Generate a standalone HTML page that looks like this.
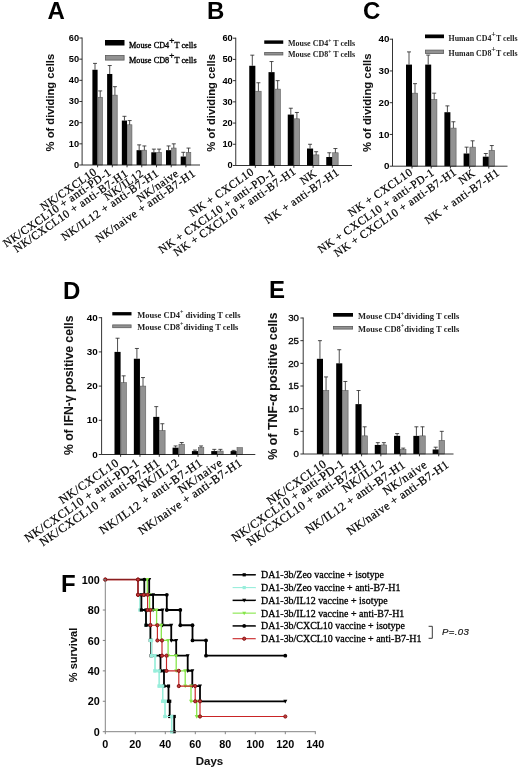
<!DOCTYPE html>
<html><head><meta charset="utf-8"><title>Figure</title>
<style>
html,body{margin:0;padding:0;background:#fff;}
svg{display:block;opacity:0.999;will-change:transform;}
text{font-family:"Liberation Sans",sans-serif;fill:#000;}
.ttl{font-size:24px;font-weight:bold;}
.ylab{font-weight:bold;fill:#111;stroke:#111;stroke-width:0.06;}
.tick{font-size:11.5px;font-weight:bold;}
.tickf{font-size:10.8px;font-weight:bold;}
.xlab{font-family:"Liberation Serif",serif;stroke:#000;stroke-width:0.22;}
.leg{font-family:"Liberation Serif",serif;fill:#000;stroke:#000;stroke-width:0.35;letter-spacing:0.05px;}
.legb{font-family:"Liberation Serif",serif;fill:#222;}
.legf{font-family:"Liberation Serif",serif;font-size:9.95px;stroke:#000;stroke-width:0.3;}
.pval{font-size:9.6px;font-style:italic;fill:#111;stroke:#111;stroke-width:0.15;letter-spacing:0.35px;}
.axl{fill:none;stroke:#111;stroke-width:0.85;}
.axf{fill:none;stroke:#777;stroke-width:0.9;}
.eb{fill:none;stroke:#222;stroke-width:0.8;}
</style></head>
<body>
<svg width="520" height="769" viewBox="0 0 520 769">
<rect width="520" height="769" fill="#fff"/>
<text x="47.5" y="19" class="ttl">A</text>
<text transform="translate(54,102.6) rotate(-90)" class="ylab" font-size="11.2" text-anchor="middle">% of dividing cells</text>
<rect x="92.40" y="69.75" width="5.20" height="95.25" fill="#000"/>
<path d="M95.00 69.75V63.40M93.00 63.40H97.00" class="eb"/>
<rect x="97.90" y="97.27" width="4.60" height="67.73" fill="#929292" stroke="#5c5c5c" stroke-width="0.6"/>
<path d="M100.20 97.27V90.92M98.20 90.92H102.20" class="eb"/>
<rect x="107.12" y="73.98" width="5.20" height="91.02" fill="#000"/>
<path d="M109.72 73.98V65.52M107.72 65.52H111.72" class="eb"/>
<rect x="112.62" y="95.15" width="4.60" height="69.85" fill="#929292" stroke="#5c5c5c" stroke-width="0.6"/>
<path d="M114.92 95.15V86.68M112.92 86.68H116.92" class="eb"/>
<rect x="121.84" y="120.55" width="5.20" height="44.45" fill="#000"/>
<path d="M124.44 120.55V116.32M122.44 116.32H126.44" class="eb"/>
<rect x="127.34" y="124.78" width="4.60" height="40.22" fill="#929292" stroke="#5c5c5c" stroke-width="0.6"/>
<path d="M129.64 124.78V120.55M127.64 120.55H131.64" class="eb"/>
<rect x="136.56" y="150.18" width="5.20" height="14.82" fill="#000"/>
<path d="M139.16 150.18V144.89M137.16 144.89H141.16" class="eb"/>
<rect x="142.06" y="150.18" width="4.60" height="14.82" fill="#929292" stroke="#5c5c5c" stroke-width="0.6"/>
<path d="M144.36 150.18V145.95M142.36 145.95H146.36" class="eb"/>
<rect x="151.28" y="152.30" width="5.20" height="12.70" fill="#000"/>
<path d="M153.88 152.30V149.12M151.88 149.12H155.88" class="eb"/>
<rect x="156.78" y="152.30" width="4.60" height="12.70" fill="#929292" stroke="#5c5c5c" stroke-width="0.6"/>
<path d="M159.08 152.30V149.12M157.08 149.12H161.08" class="eb"/>
<rect x="166.00" y="150.18" width="5.20" height="14.82" fill="#000"/>
<path d="M168.60 150.18V145.95M166.60 145.95H170.60" class="eb"/>
<rect x="171.50" y="148.07" width="4.60" height="16.93" fill="#929292" stroke="#5c5c5c" stroke-width="0.6"/>
<path d="M173.80 148.07V143.83M171.80 143.83H175.80" class="eb"/>
<rect x="180.72" y="156.53" width="5.20" height="8.47" fill="#000"/>
<path d="M183.32 156.53V152.30M181.32 152.30H185.32" class="eb"/>
<rect x="186.22" y="152.30" width="4.60" height="12.70" fill="#929292" stroke="#5c5c5c" stroke-width="0.6"/>
<path d="M188.52 152.30V148.07M186.52 148.07H190.52" class="eb"/>
<path d="M82.1 37.5V165H200" class="axl"/>
<path d="M79.3 165.00H82.1" class="axl"/>
<text transform="translate(79.10,167.89) scale(1.09,1)" font-size="8.5" font-weight="bold" stroke="#000" stroke-width="0" text-anchor="end">0</text>
<path d="M79.3 143.83H82.1" class="axl"/>
<text transform="translate(79.10,146.72) scale(1.09,1)" font-size="8.5" font-weight="bold" stroke="#000" stroke-width="0" text-anchor="end">10</text>
<path d="M79.3 122.67H82.1" class="axl"/>
<text transform="translate(79.10,125.56) scale(1.09,1)" font-size="8.5" font-weight="bold" stroke="#000" stroke-width="0" text-anchor="end">20</text>
<path d="M79.3 101.50H82.1" class="axl"/>
<text transform="translate(79.10,104.39) scale(1.09,1)" font-size="8.5" font-weight="bold" stroke="#000" stroke-width="0" text-anchor="end">30</text>
<path d="M79.3 80.33H82.1" class="axl"/>
<text transform="translate(79.10,83.22) scale(1.09,1)" font-size="8.5" font-weight="bold" stroke="#000" stroke-width="0" text-anchor="end">40</text>
<path d="M79.3 59.17H82.1" class="axl"/>
<text transform="translate(79.10,62.06) scale(1.09,1)" font-size="8.5" font-weight="bold" stroke="#000" stroke-width="0" text-anchor="end">50</text>
<path d="M79.3 38.00H82.1" class="axl"/>
<text transform="translate(79.10,40.89) scale(1.09,1)" font-size="8.5" font-weight="bold" stroke="#000" stroke-width="0" text-anchor="end">60</text>
<path d="M97.60 165V167.3" class="axl" stroke-width="0.6"/>
<text transform="translate(97.60,173.50) rotate(-34.8)" class="xlab" font-size="11.35" letter-spacing="0.52" text-anchor="end">NK/CXCL10</text>
<path d="M112.32 165V167.3" class="axl" stroke-width="0.6"/>
<text transform="translate(112.12,174.00) rotate(-34.8)" class="xlab" font-size="11.35" letter-spacing="0.52" text-anchor="end">NK/CXCL10 + anti-PD-1</text>
<path d="M127.04 165V167.3" class="axl" stroke-width="0.6"/>
<text transform="translate(128.74,175.00) rotate(-34.8)" class="xlab" font-size="11.35" letter-spacing="0.52" text-anchor="end">NK/CXCL10 + anti-B7-H1</text>
<path d="M141.76 165V167.3" class="axl" stroke-width="0.6"/>
<text transform="translate(144.46,175.00) rotate(-34.8)" class="xlab" font-size="11.35" letter-spacing="0.52" text-anchor="end">NK/IL12</text>
<path d="M156.48 165V167.3" class="axl" stroke-width="0.6"/>
<text transform="translate(159.48,175.00) rotate(-34.8)" class="xlab" font-size="11.35" letter-spacing="0.52" text-anchor="end">NK/IL12 + anti-B7-H1</text>
<path d="M171.20 165V167.3" class="axl" stroke-width="0.6"/>
<text transform="translate(179.60,175.00) rotate(-34.8)" class="xlab" font-size="11.35" letter-spacing="0.52" text-anchor="end">NK/naive</text>
<path d="M185.92 165V167.3" class="axl" stroke-width="0.6"/>
<text transform="translate(196.32,175.00) rotate(-34.8)" class="xlab" font-size="11.35" letter-spacing="0.52" text-anchor="end">NK/naive + anti-B7-H1</text>
<rect x="105" y="40" width="19.5" height="5.5" fill="#000"/>
<rect x="105.4" y="55.4" width="18.7" height="4.7" fill="#929292" stroke="#5c5c5c" stroke-width="0.8"/>
<text x="129" y="47.75" class="leg" font-size="8.2" font-weight="normal">Mouse CD4<tspan dy="-4.8" font-size="9">+</tspan><tspan dy="4.8">T cells</tspan></text>
<text x="129" y="62.75" class="leg" font-size="8.2" font-weight="normal">Mouse CD8<tspan dy="-4.8" font-size="9">+</tspan><tspan dy="4.8">T cells</tspan></text>
<text x="207" y="19" class="ttl">B</text>
<text transform="translate(214.5,102.9) rotate(-90)" class="ylab" font-size="11.2" text-anchor="middle">% of dividing cells</text>
<rect x="249.25" y="65.78" width="6.10" height="99.72" fill="#000"/>
<path d="M252.30 65.78V55.17M250.30 55.17H254.30" class="eb"/>
<rect x="255.65" y="91.24" width="5.50" height="74.26" fill="#929292" stroke="#5c5c5c" stroke-width="0.6"/>
<path d="M258.40 91.24V82.76M256.40 82.76H260.40" class="eb"/>
<rect x="268.50" y="72.15" width="6.10" height="93.35" fill="#000"/>
<path d="M271.55 72.15V61.54M269.55 61.54H273.55" class="eb"/>
<rect x="274.90" y="89.12" width="5.50" height="76.38" fill="#929292" stroke="#5c5c5c" stroke-width="0.6"/>
<path d="M277.65 89.12V80.63M275.65 80.63H279.65" class="eb"/>
<rect x="287.75" y="114.58" width="6.10" height="50.92" fill="#000"/>
<path d="M290.80 114.58V108.22M288.80 108.22H292.80" class="eb"/>
<rect x="294.15" y="118.82" width="5.50" height="46.68" fill="#929292" stroke="#5c5c5c" stroke-width="0.6"/>
<path d="M296.90 118.82V112.46M294.90 112.46H298.90" class="eb"/>
<rect x="307.00" y="148.53" width="6.10" height="16.97" fill="#000"/>
<path d="M310.05 148.53V144.28M308.05 144.28H312.05" class="eb"/>
<rect x="313.40" y="154.89" width="5.50" height="10.61" fill="#929292" stroke="#5c5c5c" stroke-width="0.6"/>
<path d="M316.15 154.89V151.71M314.15 151.71H318.15" class="eb"/>
<rect x="326.25" y="157.01" width="6.10" height="8.49" fill="#000"/>
<path d="M329.30 157.01V152.77M327.30 152.77H331.30" class="eb"/>
<rect x="332.65" y="152.77" width="5.50" height="12.73" fill="#929292" stroke="#5c5c5c" stroke-width="0.6"/>
<path d="M335.40 152.77V148.53M333.40 148.53H337.40" class="eb"/>
<path d="M235.75 37.7V165.5H352" class="axl"/>
<path d="M232.95 165.50H235.75" class="axl"/>
<text transform="translate(232.75,168.39) scale(1.09,1)" font-size="8.5" font-weight="bold" stroke="#000" stroke-width="0" text-anchor="end">0</text>
<path d="M232.95 144.28H235.75" class="axl"/>
<text transform="translate(232.75,147.17) scale(1.09,1)" font-size="8.5" font-weight="bold" stroke="#000" stroke-width="0" text-anchor="end">10</text>
<path d="M232.95 123.07H235.75" class="axl"/>
<text transform="translate(232.75,125.96) scale(1.09,1)" font-size="8.5" font-weight="bold" stroke="#000" stroke-width="0" text-anchor="end">20</text>
<path d="M232.95 101.85H235.75" class="axl"/>
<text transform="translate(232.75,104.74) scale(1.09,1)" font-size="8.5" font-weight="bold" stroke="#000" stroke-width="0" text-anchor="end">30</text>
<path d="M232.95 80.63H235.75" class="axl"/>
<text transform="translate(232.75,83.52) scale(1.09,1)" font-size="8.5" font-weight="bold" stroke="#000" stroke-width="0" text-anchor="end">40</text>
<path d="M232.95 59.42H235.75" class="axl"/>
<text transform="translate(232.75,62.31) scale(1.09,1)" font-size="8.5" font-weight="bold" stroke="#000" stroke-width="0" text-anchor="end">50</text>
<path d="M232.95 38.20H235.75" class="axl"/>
<text transform="translate(232.75,41.09) scale(1.09,1)" font-size="8.5" font-weight="bold" stroke="#000" stroke-width="0" text-anchor="end">60</text>
<path d="M255.35 165.5V167.8" class="axl" stroke-width="0.6"/>
<text transform="translate(254.75,173.50) rotate(-34.8)" class="xlab" font-size="11.35" letter-spacing="0.52" text-anchor="end">NK + CXCL10</text>
<path d="M274.60 165.5V167.8" class="axl" stroke-width="0.6"/>
<text transform="translate(275.80,174.40) rotate(-34.8)" class="xlab" font-size="11.35" letter-spacing="0.52" text-anchor="end">NK + CXCL10 + anti-PD-1</text>
<path d="M293.85 165.5V167.8" class="axl" stroke-width="0.6"/>
<text transform="translate(296.95,173.00) rotate(-34.8)" class="xlab" font-size="11.35" letter-spacing="0.52" text-anchor="end">NK  + CXCL10 + anti-B7-H1</text>
<path d="M313.10 165.5V167.8" class="axl" stroke-width="0.6"/>
<text transform="translate(317.50,175.00) rotate(-34.8)" class="xlab" font-size="11.35" letter-spacing="0.52" text-anchor="end">NK</text>
<path d="M332.35 165.5V167.8" class="axl" stroke-width="0.6"/>
<text transform="translate(340.05,174.00) rotate(-34.8)" class="xlab" font-size="11.35" letter-spacing="0.52" text-anchor="end">NK + anti-B7-H1</text>
<rect x="264.25" y="40.4" width="19" height="3.4" fill="#000"/>
<rect x="264.65" y="52.4" width="18.2" height="2.5999999999999996" fill="#929292" stroke="#5c5c5c" stroke-width="0.8"/>
<text x="288" y="46.00" class="legb" font-size="8" font-weight="bold">Mouse CD4<tspan dy="-3" font-size="5.5">+</tspan><tspan dy="3"> T cells</tspan></text>
<text x="288" y="57.30" class="legb" font-size="8" font-weight="bold">Mouse CD8<tspan dy="-3" font-size="5.5">+</tspan><tspan dy="3"> T cells</tspan></text>
<text x="363" y="19" class="ttl">C</text>
<text transform="translate(371.3,102.8) rotate(-90)" class="ylab" font-size="11.3" text-anchor="middle">% of dividing cells</text>
<rect x="406.00" y="64.60" width="6.00" height="101.60" fill="#000"/>
<path d="M409.00 64.60V51.90M407.00 51.90H411.00" class="eb"/>
<rect x="412.30" y="93.17" width="5.40" height="73.02" fill="#929292" stroke="#5c5c5c" stroke-width="0.6"/>
<path d="M415.00 93.17V83.65M413.00 83.65H417.00" class="eb"/>
<rect x="425.20" y="64.60" width="6.00" height="101.60" fill="#000"/>
<path d="M428.20 64.60V55.07M426.20 55.07H430.20" class="eb"/>
<rect x="431.50" y="99.52" width="5.40" height="66.67" fill="#929292" stroke="#5c5c5c" stroke-width="0.6"/>
<path d="M434.20 99.52V93.17M432.20 93.17H436.20" class="eb"/>
<rect x="444.40" y="112.22" width="6.00" height="53.97" fill="#000"/>
<path d="M447.40 112.22V105.88M445.40 105.88H449.40" class="eb"/>
<rect x="450.70" y="128.10" width="5.40" height="38.10" fill="#929292" stroke="#5c5c5c" stroke-width="0.6"/>
<path d="M453.40 128.10V121.75M451.40 121.75H455.40" class="eb"/>
<rect x="463.60" y="153.50" width="6.00" height="12.70" fill="#000"/>
<path d="M466.60 153.50V147.15M464.60 147.15H468.60" class="eb"/>
<rect x="469.90" y="147.15" width="5.40" height="19.05" fill="#929292" stroke="#5c5c5c" stroke-width="0.6"/>
<path d="M472.60 147.15V140.80M470.60 140.80H474.60" class="eb"/>
<rect x="482.80" y="156.67" width="6.00" height="9.52" fill="#000"/>
<path d="M485.80 156.67V153.50M483.80 153.50H487.80" class="eb"/>
<rect x="489.10" y="150.32" width="5.40" height="15.88" fill="#929292" stroke="#5c5c5c" stroke-width="0.6"/>
<path d="M491.80 150.32V145.56M489.80 145.56H493.80" class="eb"/>
<path d="M392.5 38.7V166.2H507.5" class="axl"/>
<path d="M389.7 166.20H392.5" class="axl"/>
<text transform="translate(389.50,169.26) scale(1.09,1)" font-size="9" font-weight="bold" stroke="#000" stroke-width="0" text-anchor="end">0</text>
<path d="M389.7 134.45H392.5" class="axl"/>
<text transform="translate(389.50,137.51) scale(1.09,1)" font-size="9" font-weight="bold" stroke="#000" stroke-width="0" text-anchor="end">10</text>
<path d="M389.7 102.70H392.5" class="axl"/>
<text transform="translate(389.50,105.76) scale(1.09,1)" font-size="9" font-weight="bold" stroke="#000" stroke-width="0" text-anchor="end">20</text>
<path d="M389.7 70.95H392.5" class="axl"/>
<text transform="translate(389.50,74.01) scale(1.09,1)" font-size="9" font-weight="bold" stroke="#000" stroke-width="0" text-anchor="end">30</text>
<path d="M389.7 39.20H392.5" class="axl"/>
<text transform="translate(389.50,42.26) scale(1.09,1)" font-size="9" font-weight="bold" stroke="#000" stroke-width="0" text-anchor="end">40</text>
<path d="M412.00 166.2V168.5" class="axl" stroke-width="0.6"/>
<text transform="translate(413.50,173.70) rotate(-34.8)" class="xlab" font-size="11.35" letter-spacing="0.52" text-anchor="end">NK + CXCL10</text>
<path d="M431.20 166.2V168.5" class="axl" stroke-width="0.6"/>
<text transform="translate(435.10,174.20) rotate(-34.8)" class="xlab" font-size="11.35" letter-spacing="0.52" text-anchor="end">NK + CXCL10 + anti-PD-1</text>
<path d="M450.40 166.2V168.5" class="axl" stroke-width="0.6"/>
<text transform="translate(457.40,173.70) rotate(-34.8)" class="xlab" font-size="11.35" letter-spacing="0.52" text-anchor="end">NK  + CXCL10 + anti-B7-H1</text>
<path d="M469.60 166.2V168.5" class="axl" stroke-width="0.6"/>
<text transform="translate(476.00,174.70) rotate(-34.8)" class="xlab" font-size="11.35" letter-spacing="0.52" text-anchor="end">NK</text>
<path d="M488.80 166.2V168.5" class="axl" stroke-width="0.6"/>
<text transform="translate(500.30,174.20) rotate(-34.8)" class="xlab" font-size="11.35" letter-spacing="0.52" text-anchor="end">NK + anti-B7-H1</text>
<rect x="425" y="34.5" width="19" height="3.7" fill="#000"/>
<rect x="425.4" y="50.1" width="18.2" height="3.4000000000000004" fill="#929292" stroke="#5c5c5c" stroke-width="0.8"/>
<text x="448.6" y="41.20" class="legb" font-size="7.9" font-weight="bold">Human CD4<tspan dy="-4" font-size="8">+</tspan><tspan dy="4">T cells</tspan></text>
<text x="448.6" y="55.90" class="legb" font-size="7.9" font-weight="bold">Human CD8<tspan dy="-4" font-size="8">+</tspan><tspan dy="4">T cells</tspan></text>
<text x="63" y="298.5" class="ttl">D</text>
<text transform="translate(73.2,385.3) rotate(-90)" class="ylab" font-size="12.2" text-anchor="middle">% of IFN-γ positive cells</text>
<rect x="114.50" y="351.90" width="6.10" height="102.60" fill="#000"/>
<path d="M117.55 351.90V338.22M115.55 338.22H119.55" class="eb"/>
<rect x="120.90" y="382.68" width="5.50" height="71.82" fill="#929292" stroke="#5c5c5c" stroke-width="0.6"/>
<path d="M123.65 382.68V375.84M121.65 375.84H125.65" class="eb"/>
<rect x="133.85" y="358.74" width="6.10" height="95.76" fill="#000"/>
<path d="M136.90 358.74V348.48M134.90 348.48H138.90" class="eb"/>
<rect x="140.25" y="386.10" width="5.50" height="68.40" fill="#929292" stroke="#5c5c5c" stroke-width="0.6"/>
<path d="M143.00 386.10V377.55M141.00 377.55H145.00" class="eb"/>
<rect x="153.20" y="416.88" width="6.10" height="37.62" fill="#000"/>
<path d="M156.25 416.88V406.62M154.25 406.62H158.25" class="eb"/>
<rect x="159.60" y="430.56" width="5.50" height="23.94" fill="#929292" stroke="#5c5c5c" stroke-width="0.6"/>
<path d="M162.35 430.56V423.72M160.35 423.72H164.35" class="eb"/>
<rect x="172.55" y="447.66" width="6.10" height="6.84" fill="#000"/>
<path d="M175.60 447.66V445.95M173.60 445.95H177.60" class="eb"/>
<rect x="178.95" y="444.24" width="5.50" height="10.26" fill="#929292" stroke="#5c5c5c" stroke-width="0.6"/>
<path d="M181.70 444.24V442.53M179.70 442.53H183.70" class="eb"/>
<rect x="191.90" y="451.08" width="6.10" height="3.42" fill="#000"/>
<path d="M194.95 451.08V450.05M192.95 450.05H196.95" class="eb"/>
<rect x="198.30" y="447.66" width="5.50" height="6.84" fill="#929292" stroke="#5c5c5c" stroke-width="0.6"/>
<path d="M201.05 447.66V445.95M199.05 445.95H203.05" class="eb"/>
<rect x="211.25" y="451.08" width="6.10" height="3.42" fill="#000"/>
<path d="M214.30 451.08V449.37M212.30 449.37H216.30" class="eb"/>
<rect x="217.65" y="451.08" width="5.50" height="3.42" fill="#929292" stroke="#5c5c5c" stroke-width="0.6"/>
<path d="M220.40 451.08V449.37M218.40 449.37H222.40" class="eb"/>
<rect x="230.60" y="451.08" width="6.10" height="3.42" fill="#000"/>
<path d="M233.65 451.08V450.40M231.65 450.40H235.65" class="eb"/>
<rect x="237.00" y="447.66" width="5.50" height="6.84" fill="#929292" stroke="#5c5c5c" stroke-width="0.6"/>
<path d="M101.6 317.2V454.5H255.3" class="axl"/>
<path d="M98.8 454.50H101.6" class="axl"/>
<text transform="translate(97.70,457.56) scale(1.1,1)" font-size="9" font-weight="bold" stroke="#000" stroke-width="0" text-anchor="end">0</text>
<path d="M98.8 420.30H101.6" class="axl"/>
<text transform="translate(97.70,423.36) scale(1.1,1)" font-size="9" font-weight="bold" stroke="#000" stroke-width="0" text-anchor="end">10</text>
<path d="M98.8 386.10H101.6" class="axl"/>
<text transform="translate(97.70,389.16) scale(1.1,1)" font-size="9" font-weight="bold" stroke="#000" stroke-width="0" text-anchor="end">20</text>
<path d="M98.8 351.90H101.6" class="axl"/>
<text transform="translate(97.70,354.96) scale(1.1,1)" font-size="9" font-weight="bold" stroke="#000" stroke-width="0" text-anchor="end">30</text>
<path d="M98.8 317.70H101.6" class="axl"/>
<text transform="translate(97.70,320.76) scale(1.1,1)" font-size="9" font-weight="bold" stroke="#000" stroke-width="0" text-anchor="end">40</text>
<path d="M120.60 454.5V456.8" class="axl" stroke-width="0.6"/>
<text transform="translate(119.80,464.50) rotate(-34.8)" class="xlab" font-size="11.95" letter-spacing="0.6" text-anchor="end">NK/CXCL10</text>
<path d="M139.95 454.5V456.8" class="axl" stroke-width="0.6"/>
<text transform="translate(140.15,464.50) rotate(-34.8)" class="xlab" font-size="11.95" letter-spacing="0.6" text-anchor="end">NK/CXCL10 + anti-PD-1</text>
<path d="M159.30 454.5V456.8" class="axl" stroke-width="0.6"/>
<text transform="translate(160.80,464.50) rotate(-34.8)" class="xlab" font-size="11.95" letter-spacing="0.55" text-anchor="end">NK/CXCL10 + anti-B7-H1</text>
<path d="M178.65 454.5V456.8" class="axl" stroke-width="0.6"/>
<text transform="translate(180.05,464.50) rotate(-34.8)" class="xlab" font-size="11.95" letter-spacing="0.6" text-anchor="end">NK/IL12</text>
<path d="M198.00 454.5V456.8" class="axl" stroke-width="0.6"/>
<text transform="translate(203.40,464.50) rotate(-34.8)" class="xlab" font-size="11.95" letter-spacing="0.58" text-anchor="end">NK/IL12 + anti-B7-H1</text>
<path d="M217.35 454.5V456.8" class="axl" stroke-width="0.6"/>
<text transform="translate(223.55,464.50) rotate(-34.8)" class="xlab" font-size="11.95" letter-spacing="0.6" text-anchor="end">NK/naive</text>
<path d="M236.70 454.5V456.8" class="axl" stroke-width="0.6"/>
<text transform="translate(243.00,464.50) rotate(-34.8)" class="xlab" font-size="11.95" letter-spacing="0.47" text-anchor="end">NK/naive + anti-B7-H1</text>
<rect x="112.3" y="312.1" width="19.2" height="3.3" fill="#000"/>
<rect x="112.7" y="324.9" width="18.4" height="2.8" fill="#929292" stroke="#5c5c5c" stroke-width="0.8"/>
<text x="137.3" y="317.60" class="legb" font-size="8.5" font-weight="bold">Mouse CD4<tspan dy="-3.6" font-size="6">+</tspan><tspan dy="3.6"> dividing T cells</tspan></text>
<text x="137.3" y="330.00" class="legb" font-size="8.5" font-weight="bold">Mouse CD8<tspan dy="-3.6" font-size="6">+</tspan><tspan dy="3.6">dividing T cells</tspan></text>
<text x="269" y="298" class="ttl">E</text>
<text transform="translate(277.2,386.2) rotate(-90)" class="ylab" font-size="12.45" text-anchor="middle">% of TNF-α positive cells</text>
<rect x="316.90" y="358.80" width="6.10" height="95.20" fill="#000"/>
<path d="M319.95 358.80V340.67M317.95 340.67H321.95" class="eb"/>
<rect x="323.30" y="390.53" width="5.50" height="63.47" fill="#929292" stroke="#5c5c5c" stroke-width="0.6"/>
<path d="M326.05 390.53V376.93M324.05 376.93H328.05" class="eb"/>
<rect x="336.19" y="363.33" width="6.10" height="90.67" fill="#000"/>
<path d="M339.24 363.33V349.73M337.24 349.73H341.24" class="eb"/>
<rect x="342.59" y="390.53" width="5.50" height="63.47" fill="#929292" stroke="#5c5c5c" stroke-width="0.6"/>
<path d="M345.34 390.53V381.47M343.34 381.47H347.34" class="eb"/>
<rect x="355.48" y="404.13" width="6.10" height="49.87" fill="#000"/>
<path d="M358.53 404.13V390.53M356.53 390.53H360.53" class="eb"/>
<rect x="361.88" y="435.87" width="5.50" height="18.13" fill="#929292" stroke="#5c5c5c" stroke-width="0.6"/>
<path d="M364.63 435.87V426.80M362.63 426.80H366.63" class="eb"/>
<rect x="374.77" y="444.93" width="6.10" height="9.07" fill="#000"/>
<path d="M377.82 444.93V442.67M375.82 442.67H379.82" class="eb"/>
<rect x="381.17" y="444.93" width="5.50" height="9.07" fill="#929292" stroke="#5c5c5c" stroke-width="0.6"/>
<path d="M383.92 444.93V442.67M381.92 442.67H385.92" class="eb"/>
<rect x="394.06" y="435.87" width="6.10" height="18.13" fill="#000"/>
<path d="M397.11 435.87V433.60M395.11 433.60H399.11" class="eb"/>
<rect x="400.46" y="449.47" width="5.50" height="4.53" fill="#929292" stroke="#5c5c5c" stroke-width="0.6"/>
<path d="M403.21 449.47V448.11M401.21 448.11H405.21" class="eb"/>
<rect x="413.35" y="435.87" width="6.10" height="18.13" fill="#000"/>
<path d="M416.40 435.87V426.80M414.40 426.80H418.40" class="eb"/>
<rect x="419.75" y="435.87" width="5.50" height="18.13" fill="#929292" stroke="#5c5c5c" stroke-width="0.6"/>
<path d="M422.50 435.87V426.80M420.50 426.80H424.50" class="eb"/>
<rect x="432.64" y="449.47" width="6.10" height="4.53" fill="#000"/>
<path d="M435.69 449.47V447.20M433.69 447.20H437.69" class="eb"/>
<rect x="439.04" y="440.40" width="5.50" height="13.60" fill="#929292" stroke="#5c5c5c" stroke-width="0.6"/>
<path d="M441.79 440.40V431.33M439.79 431.33H443.79" class="eb"/>
<path d="M303.2 317.5V454H453.5" class="axl"/>
<path d="M300.4 454.00H303.2" class="axl"/>
<text transform="translate(299.00,457.30) scale(1,1)" font-size="9.7" font-weight="normal" stroke="#000" stroke-width="0.3" text-anchor="end">0</text>
<path d="M300.4 431.33H303.2" class="axl"/>
<text transform="translate(299.00,434.63) scale(1,1)" font-size="9.7" font-weight="normal" stroke="#000" stroke-width="0.3" text-anchor="end">5</text>
<path d="M300.4 408.67H303.2" class="axl"/>
<text transform="translate(299.00,411.96) scale(1,1)" font-size="9.7" font-weight="normal" stroke="#000" stroke-width="0.3" text-anchor="end">10</text>
<path d="M300.4 386.00H303.2" class="axl"/>
<text transform="translate(299.00,389.30) scale(1,1)" font-size="9.7" font-weight="normal" stroke="#000" stroke-width="0.3" text-anchor="end">15</text>
<path d="M300.4 363.33H303.2" class="axl"/>
<text transform="translate(299.00,366.63) scale(1,1)" font-size="9.7" font-weight="normal" stroke="#000" stroke-width="0.3" text-anchor="end">20</text>
<path d="M300.4 340.67H303.2" class="axl"/>
<text transform="translate(299.00,343.96) scale(1,1)" font-size="9.7" font-weight="normal" stroke="#000" stroke-width="0.3" text-anchor="end">25</text>
<path d="M300.4 318.00H303.2" class="axl"/>
<text transform="translate(299.00,321.30) scale(1,1)" font-size="9.7" font-weight="normal" stroke="#000" stroke-width="0.3" text-anchor="end">30</text>
<path d="M323.00 454V456.3" class="axl" stroke-width="0.6"/>
<text transform="translate(327.50,465.50) rotate(-34.8)" class="xlab" font-size="11.95" letter-spacing="0.6" text-anchor="end">NK/CXCL10</text>
<path d="M342.29 454V456.3" class="axl" stroke-width="0.6"/>
<text transform="translate(345.29,465.50) rotate(-34.8)" class="xlab" font-size="11.95" letter-spacing="0.48" text-anchor="end">NK/CXCL10 + anti-PD-1</text>
<path d="M361.58 454V456.3" class="axl" stroke-width="0.6"/>
<text transform="translate(366.98,465.10) rotate(-34.8)" class="xlab" font-size="11.95" letter-spacing="0.49" text-anchor="end">NK/CXCL10 + anti-B7-H1</text>
<path d="M380.87 454V456.3" class="axl" stroke-width="0.6"/>
<text transform="translate(384.87,465.50) rotate(-34.8)" class="xlab" font-size="11.95" letter-spacing="0.6" text-anchor="end">NK/IL12</text>
<path d="M400.16 454V456.3" class="axl" stroke-width="0.6"/>
<text transform="translate(406.26,466.50) rotate(-34.8)" class="xlab" font-size="11.95" letter-spacing="0.4" text-anchor="end">NK/IL12 + anti-B7-H1</text>
<path d="M419.45 454V456.3" class="axl" stroke-width="0.6"/>
<text transform="translate(428.05,466.50) rotate(-34.8)" class="xlab" font-size="11.95" letter-spacing="0.55" text-anchor="end">NK/naive</text>
<path d="M438.74 454V456.3" class="axl" stroke-width="0.6"/>
<text transform="translate(449.74,466.50) rotate(-34.8)" class="xlab" font-size="11.95" letter-spacing="0.36" text-anchor="end">NK/naive + anti-B7-H1</text>
<rect x="333.1" y="313" width="19.9" height="3.7" fill="#000"/>
<rect x="333.5" y="326.4" width="19.099999999999998" height="2.7" fill="#929292" stroke="#5c5c5c" stroke-width="0.8"/>
<text x="358.1" y="319.10" class="legb" font-size="8.5" font-weight="bold">Mouse CD4<tspan dy="-3.6" font-size="6">+</tspan><tspan dy="3.6">dividing T cells</tspan></text>
<text x="358.1" y="331.50" class="legb" font-size="8.5" font-weight="bold">Mouse CD8<tspan dy="-3.6" font-size="6">+</tspan><tspan dy="3.6">dividing T cells</tspan></text>
<text x="61" y="591.5" class="ttl">F</text>
<text transform="translate(76.6,655) rotate(-90)" class="ylab" font-size="11" text-anchor="middle">% survival</text>
<text x="209.5" y="765.3" class="ylab" font-size="11.5" text-anchor="middle">Days</text>
<path d="M138.60 594.81L139.80 594.81L139.80 610.02L146.00 610.02L146.00 625.23L150.40 625.23L150.40 640.44L151.50 640.44L151.50 655.65L155.00 655.65L155.00 670.86L159.20 670.86L159.20 686.07L162.70 686.07L162.70 701.28L165.00 701.28L165.00 716.49L171.70 716.49L171.70 731.70" fill="none" stroke="#98eedb" stroke-width="1.2" stroke-linejoin="miter"/>
<rect x="138.20" y="593.21" width="3.2" height="3.2" fill="#98eedb"/>
<rect x="138.20" y="608.42" width="3.2" height="3.2" fill="#98eedb"/>
<rect x="144.40" y="608.42" width="3.2" height="3.2" fill="#98eedb"/>
<rect x="144.40" y="623.63" width="3.2" height="3.2" fill="#98eedb"/>
<rect x="148.80" y="623.63" width="3.2" height="3.2" fill="#98eedb"/>
<rect x="148.80" y="638.84" width="3.2" height="3.2" fill="#98eedb"/>
<rect x="149.90" y="638.84" width="3.2" height="3.2" fill="#98eedb"/>
<rect x="149.90" y="654.05" width="3.2" height="3.2" fill="#98eedb"/>
<rect x="153.40" y="654.05" width="3.2" height="3.2" fill="#98eedb"/>
<rect x="153.40" y="669.26" width="3.2" height="3.2" fill="#98eedb"/>
<rect x="157.60" y="669.26" width="3.2" height="3.2" fill="#98eedb"/>
<rect x="157.60" y="684.47" width="3.2" height="3.2" fill="#98eedb"/>
<rect x="161.10" y="684.47" width="3.2" height="3.2" fill="#98eedb"/>
<rect x="161.10" y="699.68" width="3.2" height="3.2" fill="#98eedb"/>
<rect x="163.40" y="699.68" width="3.2" height="3.2" fill="#98eedb"/>
<rect x="163.40" y="714.89" width="3.2" height="3.2" fill="#98eedb"/>
<rect x="170.10" y="714.89" width="3.2" height="3.2" fill="#98eedb"/>
<rect x="170.10" y="730.10" width="3.2" height="3.2" fill="#98eedb"/>
<path d="M138.60 594.81L141.40 594.81L141.40 610.02L146.00 610.02L146.00 625.23L150.40 625.23L150.40 640.44L151.20 640.44L151.20 655.65L160.50 655.65L160.50 670.86L164.00 670.86L164.00 686.07L168.50 686.07L168.50 701.28L169.70 701.28L169.70 716.49L174.20 716.49L174.20 731.70" fill="none" stroke="#000" stroke-width="1.8" stroke-linejoin="miter"/>
<rect x="139.80" y="593.21" width="3.2" height="3.2" fill="#000"/>
<rect x="139.80" y="608.42" width="3.2" height="3.2" fill="#000"/>
<rect x="144.40" y="608.42" width="3.2" height="3.2" fill="#000"/>
<rect x="144.40" y="623.63" width="3.2" height="3.2" fill="#000"/>
<rect x="148.80" y="623.63" width="3.2" height="3.2" fill="#000"/>
<rect x="148.80" y="638.84" width="3.2" height="3.2" fill="#000"/>
<rect x="149.60" y="638.84" width="3.2" height="3.2" fill="#000"/>
<rect x="149.60" y="654.05" width="3.2" height="3.2" fill="#000"/>
<rect x="158.90" y="654.05" width="3.2" height="3.2" fill="#000"/>
<rect x="158.90" y="669.26" width="3.2" height="3.2" fill="#000"/>
<rect x="162.40" y="669.26" width="3.2" height="3.2" fill="#000"/>
<rect x="162.40" y="684.47" width="3.2" height="3.2" fill="#000"/>
<rect x="166.90" y="684.47" width="3.2" height="3.2" fill="#000"/>
<rect x="166.90" y="699.68" width="3.2" height="3.2" fill="#000"/>
<rect x="168.10" y="699.68" width="3.2" height="3.2" fill="#000"/>
<rect x="168.10" y="714.89" width="3.2" height="3.2" fill="#000"/>
<rect x="172.60" y="714.89" width="3.2" height="3.2" fill="#000"/>
<rect x="172.60" y="730.10" width="3.2" height="3.2" fill="#000"/>
<path d="M150.40 640.44L151.50 640.44L151.50 655.65L155.00 655.65L155.00 670.86L159.20 670.86L159.20 686.07L162.70 686.07L162.70 701.28L165.00 701.28L165.00 716.49L171.70 716.49L171.70 731.70" fill="none" stroke="#98eedb" stroke-width="1.2"/>
<rect x="148.80" y="638.84" width="3.2" height="3.2" fill="#98eedb"/>
<rect x="149.90" y="638.84" width="3.2" height="3.2" fill="#98eedb"/>
<rect x="149.90" y="654.05" width="3.2" height="3.2" fill="#98eedb"/>
<rect x="153.40" y="654.05" width="3.2" height="3.2" fill="#98eedb"/>
<rect x="153.40" y="669.26" width="3.2" height="3.2" fill="#98eedb"/>
<rect x="157.60" y="669.26" width="3.2" height="3.2" fill="#98eedb"/>
<rect x="157.60" y="684.47" width="3.2" height="3.2" fill="#98eedb"/>
<rect x="161.10" y="684.47" width="3.2" height="3.2" fill="#98eedb"/>
<rect x="161.10" y="699.68" width="3.2" height="3.2" fill="#98eedb"/>
<rect x="163.40" y="699.68" width="3.2" height="3.2" fill="#98eedb"/>
<rect x="163.40" y="714.89" width="3.2" height="3.2" fill="#98eedb"/>
<rect x="170.10" y="714.89" width="3.2" height="3.2" fill="#98eedb"/>
<rect x="170.10" y="730.10" width="3.2" height="3.2" fill="#98eedb"/>
<path d="M138.60 579.60L149.20 579.60L149.20 594.81L153.10 594.81L153.10 610.02L162.50 610.02L162.50 625.23L171.25 625.23L171.25 640.44L176.20 640.44L176.20 655.65L187.70 655.65L187.70 670.86L192.30 670.86L192.30 686.07L200.00 686.07L200.00 701.28L285.30 701.28" fill="none" stroke="#000" stroke-width="1.8" stroke-linejoin="miter"/>
<path d="M147.20 578.10H151.20L149.20 581.80Z" fill="#000"/>
<path d="M147.20 593.31H151.20L149.20 597.01Z" fill="#000"/>
<path d="M151.10 593.31H155.10L153.10 597.01Z" fill="#000"/>
<path d="M151.10 608.52H155.10L153.10 612.22Z" fill="#000"/>
<path d="M160.50 608.52H164.50L162.50 612.22Z" fill="#000"/>
<path d="M160.50 623.73H164.50L162.50 627.43Z" fill="#000"/>
<path d="M169.25 623.73H173.25L171.25 627.43Z" fill="#000"/>
<path d="M169.25 638.94H173.25L171.25 642.64Z" fill="#000"/>
<path d="M174.20 638.94H178.20L176.20 642.64Z" fill="#000"/>
<path d="M174.20 654.15H178.20L176.20 657.85Z" fill="#000"/>
<path d="M185.70 654.15H189.70L187.70 657.85Z" fill="#000"/>
<path d="M185.70 669.36H189.70L187.70 673.06Z" fill="#000"/>
<path d="M190.30 669.36H194.30L192.30 673.06Z" fill="#000"/>
<path d="M190.30 684.57H194.30L192.30 688.27Z" fill="#000"/>
<path d="M198.00 684.57H202.00L200.00 688.27Z" fill="#000"/>
<path d="M198.00 699.78H202.00L200.00 703.48Z" fill="#000"/>
<path d="M283.30 699.78H287.30L285.30 703.48Z" fill="#000"/>
<path d="M138.60 579.60L147.30 579.60L147.30 594.81L149.60 594.81L149.60 610.02L156.60 610.02L156.60 625.23L161.30 625.23L161.30 640.44L168.10 640.44L168.10 655.65L176.20 655.65L176.20 670.86L185.20 670.86L185.20 686.07L191.00 686.07L191.00 701.28L196.70 701.28L196.70 716.49L200.00 716.49" fill="none" stroke="#86e64a" stroke-width="1.3" stroke-linejoin="miter"/>
<path d="M145.30 578.10H149.30L147.30 581.80Z" fill="#86e64a"/>
<path d="M145.30 593.31H149.30L147.30 597.01Z" fill="#86e64a"/>
<path d="M147.60 593.31H151.60L149.60 597.01Z" fill="#86e64a"/>
<path d="M147.60 608.52H151.60L149.60 612.22Z" fill="#86e64a"/>
<path d="M154.60 608.52H158.60L156.60 612.22Z" fill="#86e64a"/>
<path d="M154.60 623.73H158.60L156.60 627.43Z" fill="#86e64a"/>
<path d="M159.30 623.73H163.30L161.30 627.43Z" fill="#86e64a"/>
<path d="M159.30 638.94H163.30L161.30 642.64Z" fill="#86e64a"/>
<path d="M166.10 638.94H170.10L168.10 642.64Z" fill="#86e64a"/>
<path d="M166.10 654.15H170.10L168.10 657.85Z" fill="#86e64a"/>
<path d="M174.20 654.15H178.20L176.20 657.85Z" fill="#86e64a"/>
<path d="M174.20 669.36H178.20L176.20 673.06Z" fill="#86e64a"/>
<path d="M183.20 669.36H187.20L185.20 673.06Z" fill="#86e64a"/>
<path d="M183.20 684.57H187.20L185.20 688.27Z" fill="#86e64a"/>
<path d="M189.00 684.57H193.00L191.00 688.27Z" fill="#86e64a"/>
<path d="M189.00 699.78H193.00L191.00 703.48Z" fill="#86e64a"/>
<path d="M194.70 699.78H198.70L196.70 703.48Z" fill="#86e64a"/>
<path d="M194.70 714.99H198.70L196.70 718.69Z" fill="#86e64a"/>
<path d="M198.00 714.99H202.00L200.00 718.69Z" fill="#86e64a"/>
<path d="M138.60 579.60L144.30 579.60L144.30 594.81L166.80 594.81L166.80 610.02L180.30 610.02L180.30 625.23L192.50 625.23L192.50 640.44L206.00 640.44L206.00 655.65L285.30 655.65" fill="none" stroke="#000" stroke-width="1.8" stroke-linejoin="miter"/>
<circle cx="144.30" cy="579.60" r="1.9" fill="#000"/>
<circle cx="144.30" cy="594.81" r="1.9" fill="#000"/>
<circle cx="166.80" cy="594.81" r="1.9" fill="#000"/>
<circle cx="166.80" cy="610.02" r="1.9" fill="#000"/>
<circle cx="180.30" cy="610.02" r="1.9" fill="#000"/>
<circle cx="180.30" cy="625.23" r="1.9" fill="#000"/>
<circle cx="192.50" cy="625.23" r="1.9" fill="#000"/>
<circle cx="192.50" cy="640.44" r="1.9" fill="#000"/>
<circle cx="206.00" cy="640.44" r="1.9" fill="#000"/>
<circle cx="206.00" cy="655.65" r="1.9" fill="#000"/>
<circle cx="285.30" cy="655.65" r="1.9" fill="#000"/>
<path d="M105.30 579.60L138.00 579.60L138.00 594.81L147.60 594.81L147.60 610.02L150.40 610.02L150.40 625.23L157.40 625.23L157.40 640.44L162.00 640.44L162.00 655.65L166.50 655.65L166.50 670.86L178.80 670.86L178.80 686.07L195.20 686.07L195.20 701.28L200.00 701.28L200.00 716.49L285.30 716.49" fill="none" stroke="#c92426" stroke-width="1.15" stroke-linejoin="miter"/>
<circle cx="105.30" cy="579.60" r="1.6" fill="#c23a3a" stroke="#861414" stroke-width="1"/>
<circle cx="138.00" cy="579.60" r="1.6" fill="#c23a3a" stroke="#861414" stroke-width="1"/>
<circle cx="138.00" cy="594.81" r="1.6" fill="#c23a3a" stroke="#861414" stroke-width="1"/>
<circle cx="147.60" cy="594.81" r="1.6" fill="#c23a3a" stroke="#861414" stroke-width="1"/>
<circle cx="147.60" cy="610.02" r="1.6" fill="#c23a3a" stroke="#861414" stroke-width="1"/>
<circle cx="150.40" cy="610.02" r="1.6" fill="#c23a3a" stroke="#861414" stroke-width="1"/>
<circle cx="150.40" cy="625.23" r="1.6" fill="#c23a3a" stroke="#861414" stroke-width="1"/>
<circle cx="157.40" cy="625.23" r="1.6" fill="#c23a3a" stroke="#861414" stroke-width="1"/>
<circle cx="157.40" cy="640.44" r="1.6" fill="#c23a3a" stroke="#861414" stroke-width="1"/>
<circle cx="162.00" cy="640.44" r="1.6" fill="#c23a3a" stroke="#861414" stroke-width="1"/>
<circle cx="162.00" cy="655.65" r="1.6" fill="#c23a3a" stroke="#861414" stroke-width="1"/>
<circle cx="166.50" cy="655.65" r="1.6" fill="#c23a3a" stroke="#861414" stroke-width="1"/>
<circle cx="166.50" cy="670.86" r="1.6" fill="#c23a3a" stroke="#861414" stroke-width="1"/>
<circle cx="178.80" cy="670.86" r="1.6" fill="#c23a3a" stroke="#861414" stroke-width="1"/>
<circle cx="178.80" cy="686.07" r="1.6" fill="#c23a3a" stroke="#861414" stroke-width="1"/>
<circle cx="195.20" cy="686.07" r="1.6" fill="#c23a3a" stroke="#861414" stroke-width="1"/>
<circle cx="195.20" cy="701.28" r="1.6" fill="#c23a3a" stroke="#861414" stroke-width="1"/>
<circle cx="200.00" cy="701.28" r="1.6" fill="#c23a3a" stroke="#861414" stroke-width="1"/>
<circle cx="200.00" cy="716.49" r="1.6" fill="#c23a3a" stroke="#861414" stroke-width="1"/>
<circle cx="285.30" cy="716.49" r="1.6" fill="#c23a3a" stroke="#861414" stroke-width="1"/>
<circle cx="143.70" cy="594.81" r="1.6" fill="#c23a3a" stroke="#861414" stroke-width="1"/>
<path d="M105.3 579.60H138V594.81" fill="none" stroke="#8a1d1f" stroke-width="1.5"/>
<circle cx="105.30" cy="579.60" r="1.6" fill="#c23a3a" stroke="#861414" stroke-width="1"/>
<circle cx="138.00" cy="579.60" r="1.6" fill="#c23a3a" stroke="#861414" stroke-width="1"/>
<circle cx="138.00" cy="594.81" r="1.6" fill="#c23a3a" stroke="#861414" stroke-width="1"/>
<path d="M105.3 579.10V731.7H315.80" class="axf"/>
<path d="M102.8 731.70H105.3" class="axf"/>
<text x="99.8" y="735.90" class="tickf" text-anchor="end">0</text>
<path d="M102.8 701.28H105.3" class="axf"/>
<text x="99.8" y="705.48" class="tickf" text-anchor="end">20</text>
<path d="M102.8 670.86H105.3" class="axf"/>
<text x="99.8" y="675.06" class="tickf" text-anchor="end">40</text>
<path d="M102.8 640.44H105.3" class="axf"/>
<text x="99.8" y="644.64" class="tickf" text-anchor="end">60</text>
<path d="M102.8 610.02H105.3" class="axf"/>
<text x="99.8" y="614.22" class="tickf" text-anchor="end">80</text>
<path d="M102.8 579.60H105.3" class="axf"/>
<text x="99.8" y="583.80" class="tickf" text-anchor="end">100</text>
<path d="M105.30 731.7V734.2" class="axf"/>
<text x="105.30" y="748" class="tickf" text-anchor="middle">0</text>
<path d="M135.30 731.7V734.2" class="axf"/>
<text x="135.30" y="748" class="tickf" text-anchor="middle">20</text>
<path d="M165.30 731.7V734.2" class="axf"/>
<text x="165.30" y="748" class="tickf" text-anchor="middle">40</text>
<path d="M195.30 731.7V734.2" class="axf"/>
<text x="195.30" y="748" class="tickf" text-anchor="middle">60</text>
<path d="M225.30 731.7V734.2" class="axf"/>
<text x="225.30" y="748" class="tickf" text-anchor="middle">80</text>
<path d="M255.30 731.7V734.2" class="axf"/>
<text x="255.30" y="748" class="tickf" text-anchor="middle">100</text>
<path d="M285.30 731.7V734.2" class="axf"/>
<text x="285.30" y="748" class="tickf" text-anchor="middle">120</text>
<path d="M315.30 731.7V734.2" class="axf"/>
<text x="315.30" y="748" class="tickf" text-anchor="middle">140</text>
<path d="M232.6 574.80H255.8" stroke="#000" stroke-width="1.5"/>
<rect x="242.60" y="573.20" width="3.2" height="3.2" fill="#000"/>
<text x="261" y="578.20" class="legf">DA1-3b/Zeo vaccine + isotype</text>
<path d="M232.6 587.58H255.8" stroke="#98eedb" stroke-width="1.1"/>
<rect x="242.60" y="585.98" width="3.2" height="3.2" fill="#98eedb"/>
<text x="261" y="590.98" class="legf">DA1-3b/Zeo vaccine + anti-B7-H1</text>
<path d="M232.6 600.36H255.8" stroke="#000" stroke-width="1.5"/>
<path d="M242.20 598.86H246.20L244.20 602.56Z" fill="#000"/>
<text x="261" y="603.76" class="legf">DA1-3b/IL12 vaccine + isotype</text>
<path d="M232.6 613.14H255.8" stroke="#86e64a" stroke-width="1.1"/>
<path d="M242.20 611.64H246.20L244.20 615.34Z" fill="#86e64a"/>
<text x="261" y="616.54" class="legf">DA1-3b/IL12 vaccine + anti-B7-H1</text>
<path d="M232.6 625.92H255.8" stroke="#000" stroke-width="1.5"/>
<circle cx="244.20" cy="625.92" r="1.9" fill="#000"/>
<text x="261" y="629.32" class="legf">DA1-3b/CXCL10 vaccine + isotype</text>
<path d="M232.6 638.70H255.8" stroke="#c92426" stroke-width="1.1"/>
<circle cx="244.20" cy="638.70" r="1.6" fill="#c23a3a" stroke="#861414" stroke-width="1"/>
<text x="261" y="642.10" class="legf">DA1-3b/CXCL10 vaccine + anti-B7-H1</text>
<path d="M428.6 626.3H432.3V638.3H428.6" fill="none" stroke="#222" stroke-width="0.9"/>
<text x="442" y="635" class="pval">P=.03</text>
</svg>
</body></html>
